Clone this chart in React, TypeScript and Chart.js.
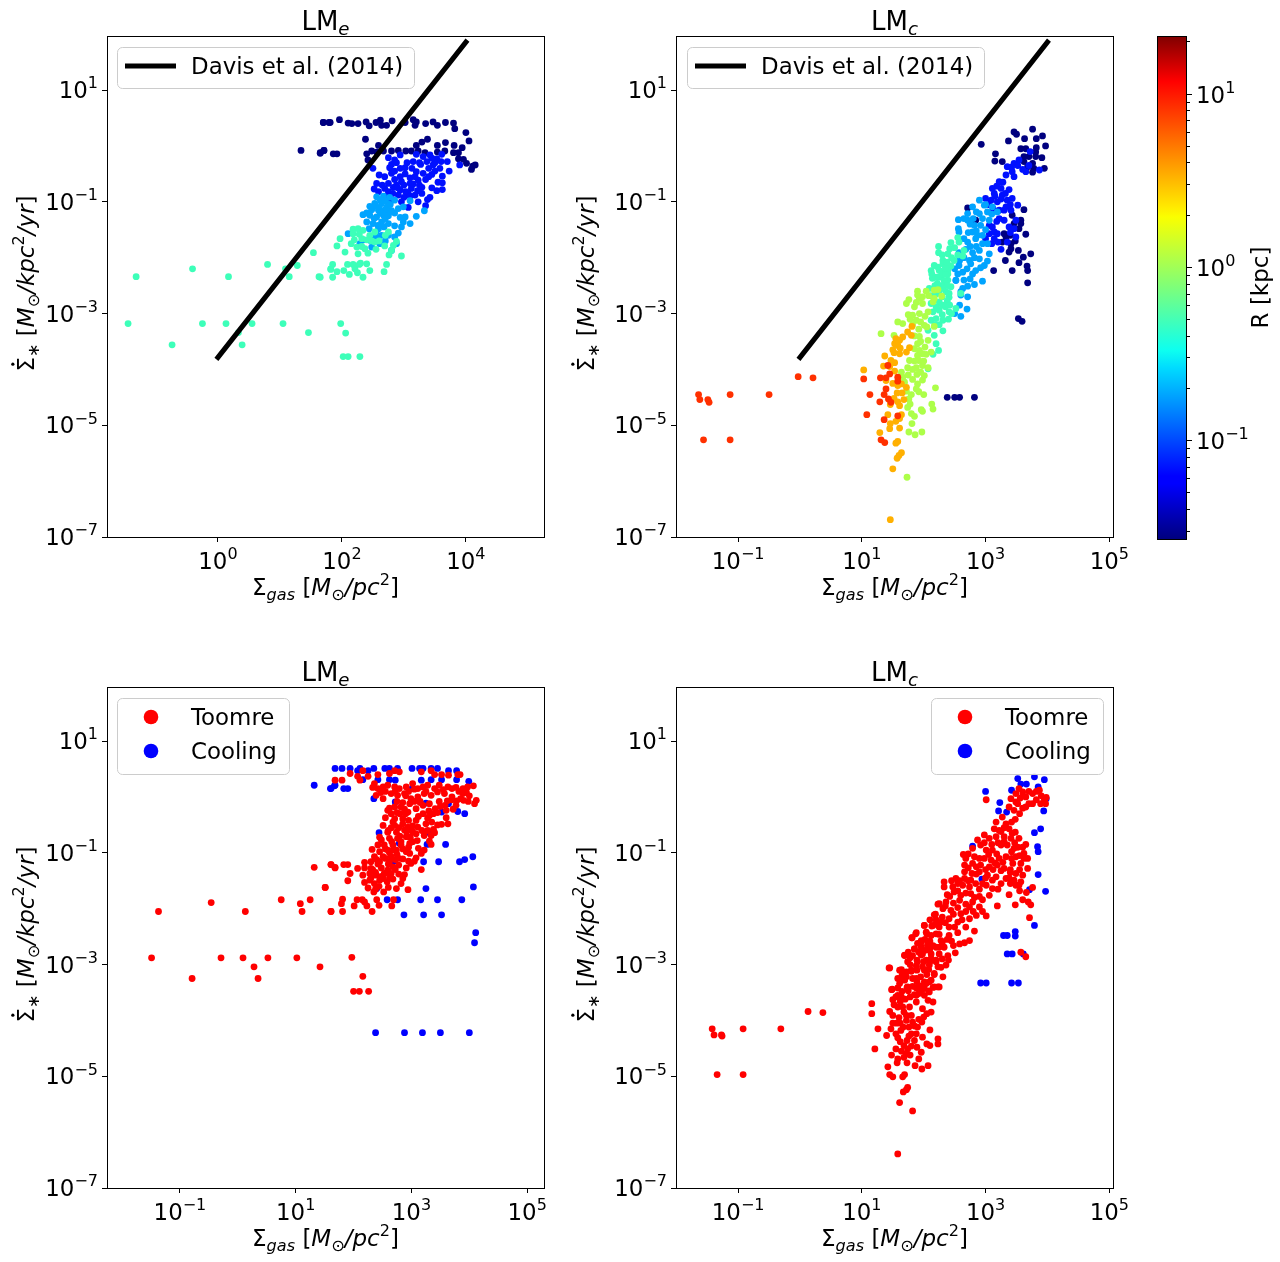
import { useEffect, useRef } from 'react';
import { Chart, registerables } from 'chart.js';

Chart.register(...registerables);

// all pairs are [log10 Sigma_gas, log10 SFR density]
const davisLine = [[0, -3.785], [4, 1.86]];

const lmeNavy = [[1.70,0.42],[1.81,0.42],[1.96,0.47],[2.10,0.41],[2.16,0.40],[2.26,0.40],[2.39,0.43],[2.44,0.36],[2.55,0.42],[2.62,0.46],[2.64,0.37],[2.72,0.37],[2.81,0.45],[3.02,0.42],[3.15,0.47],[3.20,0.43],[3.18,0.37],[3.35,0.40],[3.47,0.43],[3.54,0.37],[3.67,0.42],[3.80,0.41],[3.82,0.31],[4.00,0.24],[4.05,0.09],[2.38,0.12],[2.59,0.01],[3.20,0.01],[3.29,0.07],[3.38,0.12],[3.54,0.01],[3.67,0.06],[3.81,0.01],[3.94,-0.03],[1.71,-0.08],[1.65,-0.12],[1.86,-0.14],[1.92,-0.14],[2.40,-0.14],[2.48,-0.09],[2.56,-0.11],[2.67,-0.09],[2.80,-0.09],[2.91,-0.08],[3.03,-0.09],[3.12,-0.09],[3.23,-0.09],[3.34,-0.12],[3.54,-0.11],[3.66,-0.09],[3.80,-0.12],[3.88,-0.12],[3.88,-0.23],[3.96,-0.24],[4.01,-0.31],[4.11,-0.36],[4.15,-0.34],[4.09,-0.42],[2.42,-0.25],[1.34,-0.08],[1.65,-0.13],[1.71,-0.08],[1.70,0.42],[1.79,0.42]];
const lmeBlue = [[2.75,-0.21],[2.85,-0.25],[2.94,-0.16],[3.20,-0.15],[3.31,-0.19],[3.42,-0.16],[3.53,-0.23],[3.61,-0.15],[3.70,-0.28],[2.77,-0.39],[2.94,-0.40],[2.50,-0.40],[3.02,-0.39],[3.15,-0.28],[3.37,-0.28],[3.47,-0.34],[3.58,-0.40],[3.73,-0.45],[3.90,-0.34],[2.60,-0.52],[2.69,-0.55],[2.80,-0.49],[2.94,-0.55],[3.10,-0.57],[3.20,-0.46],[3.31,-0.49],[3.45,-0.51],[3.62,-0.54],[2.56,-0.67],[2.75,-0.67],[2.96,-0.64],[3.10,-0.67],[3.23,-0.61],[3.35,-0.60],[3.62,-0.66],[2.52,-0.77],[2.69,-0.76],[2.88,-0.70],[2.94,-0.79],[3.12,-0.76],[3.29,-0.74],[3.53,-0.80],[3.62,-0.78],[2.59,-0.82],[2.75,-0.82],[2.91,-0.88],[3.07,-0.85],[3.18,-0.88],[3.29,-0.85],[3.42,-0.92],[3.38,-0.96],[2.96,-1.00],[3.23,-1.00],[3.35,-1.07],[3.07,-1.10],[2.85,-0.60],[2.83,-0.74],[3.00,-0.70],[3.27,-0.33],[3.40,-0.40],[3.50,-0.30],[3.03,-0.82],[2.65,-0.70],[2.80,-0.33],[2.88,-0.30],[3.05,-0.30],[3.13,-0.40],[3.25,-0.30],[3.45,-0.22],[3.60,-0.28],[2.85,-0.45],[3.02,-0.50],[3.18,-0.55],[3.25,-0.70],[3.40,-0.55],[3.50,-0.45],[3.15,-0.68],[2.82,-0.85],[2.70,-0.90],[3.00,-0.92],[3.10,-0.90],[3.22,-0.80],[2.90,-0.75],[3.55,-0.65],[3.45,-0.75],[2.80,-0.97]];
const lmeSky = [[2.56,-0.91],[2.67,-0.90],[2.77,-0.92],[2.85,-0.97],[2.53,-1.03],[2.64,-1.03],[2.75,-1.04],[2.48,-1.14],[2.59,-1.15],[2.69,-1.15],[2.80,-1.16],[2.91,-1.12],[2.99,-1.09],[3.10,-0.98],[2.34,-1.23],[2.45,-1.24],[2.56,-1.27],[2.67,-1.24],[2.77,-1.18],[2.94,-1.28],[3.02,-1.27],[3.20,-1.26],[3.33,-1.16],[2.40,-1.36],[2.50,-1.39],[2.64,-1.36],[2.75,-1.39],[2.99,-1.36],[3.10,-1.39],[2.10,-1.57],[2.44,-1.48],[2.59,-1.48],[2.85,-1.43],[2.96,-1.45],[2.91,-1.56],[2.85,-1.63],[2.29,-1.75],[2.45,-1.69],[2.61,-1.75],[2.64,-1.60],[2.48,-1.81],[2.88,-1.75],[2.80,-1.87],[2.62,-0.97],[2.72,-1.10],[2.60,-1.10],[2.52,-1.30],[2.50,-1.10],[2.70,-0.98],[2.78,-1.05],[2.62,-1.20],[2.70,-1.30],[2.45,-1.08],[2.58,-1.42],[2.75,-1.25],[2.85,-1.20],[2.68,-1.45],[2.40,-1.20],[2.55,-1.55],[2.75,-1.60],[2.70,-1.70],[2.58,-1.65],[2.35,-1.68],[2.50,-1.62]];
const lmeTeal = [[-1.32,-2.34],[-0.41,-2.20],[0.17,-2.34],[0.80,-2.12],[1.28,-2.14],[1.09,-2.20],[1.15,-2.34],[1.54,-1.91],[1.63,-2.34],[1.82,-2.20],[-1.45,-3.18],[-0.25,-3.18],[0.13,-3.18],[0.55,-3.18],[1.05,-3.18],[0.33,-3.34],[1.46,-3.34],[-0.74,-3.56],[0.39,-3.56],[2.02,-3.77],[2.10,-3.77],[2.29,-3.77],[1.98,-3.18],[2.06,-3.35],[1.97,-1.66],[1.92,-1.79],[2.18,-1.49],[2.26,-1.48],[2.34,-1.51],[2.18,-1.57],[2.32,-1.66],[2.24,-1.81],[2.37,-1.84],[2.26,-1.93],[2.42,-1.92],[2.45,-1.60],[2.53,-1.54],[2.75,-1.54],[2.53,-1.72],[2.69,-1.79],[2.88,-1.71],[2.83,-1.78],[2.80,-1.87],[2.76,-1.95],[2.96,-1.97],[1.85,-2.12],[1.82,-2.21],[1.85,-2.35],[1.65,-2.35],[2.03,-2.23],[2.09,-2.12],[2.18,-2.12],[2.21,-2.20],[2.25,-2.27],[2.34,-2.35],[2.40,-2.11],[2.45,-2.23],[2.72,-2.12],[2.68,-2.25],[2.28,-1.58],[2.40,-1.68],[2.48,-1.70],[2.20,-1.68],[2.32,-1.80],[2.15,-1.75],[2.05,-1.90],[2.30,-2.10],[2.12,-2.30],[2.28,-2.12],[1.92,-2.25],[2.60,-1.70],[2.55,-1.85],[2.70,-1.60]];

const lmcNavy = [[3.76,0.30],[3.46,0.25],[3.50,0.21],[3.63,0.13],[3.92,0.18],[3.82,0.13],[3.37,0.09],[2.93,0.03],[3.97,0.00],[3.82,-0.03],[3.57,-0.05],[3.65,-0.05],[3.81,-0.11],[3.16,-0.14],[3.62,-0.19],[3.70,-0.19],[3.81,-0.19],[3.91,-0.21],[3.15,-0.27],[3.27,-0.28],[3.62,-0.28],[3.76,-0.31],[3.68,-0.37],[3.95,-0.40],[3.78,-0.40],[3.76,-0.47],[2.71,-1.11],[2.84,-1.33],[3.62,-1.14],[3.43,-1.24],[3.57,-1.33],[3.57,-1.39],[3.46,-1.39],[3.54,-1.48],[3.30,-1.57],[3.65,-1.58],[3.33,-1.63],[3.41,-1.75],[3.27,-1.72],[3.41,-1.84],[3.53,-1.87],[3.73,-1.93],[3.61,-1.99],[3.54,-2.09],[3.32,-2.05],[3.67,-2.15],[3.68,-2.23],[3.13,-2.23],[3.43,-2.23],[3.68,-2.45],[3.53,-3.09],[3.59,-3.14],[2.38,-4.50],[2.50,-4.50],[2.58,-4.50],[2.82,-4.50],[3.40,-1.60],[3.48,-1.70],[3.38,-1.90]];
const lmcBlue = [[3.54,-0.25],[3.46,-0.31],[3.35,-0.37],[3.33,-0.52],[3.43,-0.46],[3.46,-0.55],[3.65,-0.46],[3.87,-0.43],[3.22,-0.64],[3.11,-0.76],[3.25,-0.76],[3.14,-0.85],[3.27,-0.88],[3.00,-0.94],[3.09,-0.97],[3.19,-1.00],[3.35,-0.97],[3.43,-0.94],[3.52,-1.06],[3.33,-1.09],[3.41,-1.15],[3.22,-1.15],[3.11,-1.45],[3.14,-1.54],[3.06,-1.42],[3.30,-1.33],[3.22,-1.30],[3.38,-1.45],[3.49,-1.33],[3.46,-1.48],[3.14,-1.66],[3.35,-1.72],[3.49,-1.63],[3.00,-1.66],[3.06,-1.57],[3.19,-1.57],[3.15,-0.90],[3.25,-0.95],[3.32,-0.85],[3.18,-0.72],[3.28,-0.65],[3.12,-1.12],[3.30,-1.15],[3.40,-1.05],[3.05,-1.05],[3.18,-1.35],[3.38,-0.78],[3.10,-1.75],[3.25,-1.85],[3.40,-1.55],[3.20,-1.72],[3.70,-0.35],[3.60,-0.42],[3.72,-0.10],[3.52,-0.35],[3.42,-0.38]];
const lmcSky = [[2.90,-0.97],[2.79,-1.09],[2.98,-1.06],[3.11,-1.09],[2.71,-1.21],[2.90,-1.21],[3.03,-1.18],[3.19,-1.18],[2.56,-1.32],[2.71,-1.33],[2.95,-1.30],[3.06,-1.33],[2.56,-1.48],[2.82,-1.42],[2.92,-1.42],[2.57,-1.54],[2.65,-1.66],[2.79,-1.54],[2.87,-1.60],[2.71,-1.72],[2.84,-1.66],[3.03,-1.75],[2.90,-1.87],[2.79,-1.91],[2.57,-1.91],[3.06,-1.93],[2.74,-2.05],[2.90,-2.02],[3.03,-2.06],[2.57,-2.14],[2.76,-2.11],[2.98,-2.14],[2.84,-2.23],[2.55,-2.29],[2.63,-2.26],[2.79,-2.29],[2.52,-2.40],[2.95,-2.42],[2.82,-2.48],[2.71,-2.51],[2.60,-2.61],[2.71,-2.70],[2.63,-2.55],[2.52,-2.41],[2.60,-2.67],[2.65,-1.30],[2.75,-1.40],[2.72,-1.55],[2.80,-1.30],[2.68,-1.85],[2.85,-1.52],[2.95,-1.60],[2.95,-1.75],[2.85,-1.80],[2.75,-1.80],[2.65,-2.00],[2.82,-2.00],[2.70,-2.20],[2.92,-2.18],[2.58,-2.05],[3.00,-1.50],[2.85,-1.18],[3.00,-1.05],[2.75,-2.38],[2.65,-2.40],[3.10,-1.22],[2.50,-2.20],[2.58,-2.85],[2.70,-2.92],[2.60,-3.05],[2.50,-3.00]];
const lmcTeal = [[2.55,-1.64],[2.57,-1.72],[2.44,-1.73],[2.24,-1.80],[2.42,-1.84],[2.24,-1.91],[2.39,-1.93],[2.65,-1.87],[2.63,-1.97],[2.49,-2.05],[2.17,-2.14],[2.31,-2.05],[2.44,-2.15],[2.12,-2.23],[2.25,-2.23],[2.39,-2.29],[2.14,-2.37],[2.28,-2.34],[2.39,-2.40],[2.22,-2.46],[2.33,-2.49],[2.44,-2.52],[2.09,-2.55],[2.25,-2.61],[2.36,-2.61],[2.41,-2.71],[2.60,-2.64],[2.13,-2.29],[2.23,-2.17],[2.31,-2.11],[2.39,-2.23],[2.25,-2.35],[2.33,-2.41],[2.31,-2.55],[2.41,-2.64],[2.12,-2.82],[2.25,-2.79],[2.15,-2.97],[2.25,-2.94],[2.52,-2.91],[2.41,-2.97],[2.12,-3.12],[2.20,-3.09],[2.31,-3.12],[2.07,-3.30],[2.31,-3.31],[2.17,-3.39],[2.20,-3.54],[2.24,-3.66],[2.15,-3.73],[2.07,-3.99],[2.20,-2.35],[2.30,-2.25],[2.35,-2.30],[2.18,-2.50],[2.28,-2.50],[2.38,-2.50],[2.20,-2.65],[2.30,-2.70],[2.38,-2.78],[2.20,-2.88],[2.30,-2.85],[2.42,-2.85],[2.30,-3.02],[2.40,-3.10],[2.18,-3.20],[2.12,-2.68],[2.35,-2.18],[2.30,-1.95],[2.45,-2.00],[2.50,-1.82],[2.38,-2.08],[2.55,-1.95],[2.35,-2.88],[2.45,-3.00],[2.25,-3.20]];
const lmcLime = [[1.31,-3.36],[1.52,-3.39],[1.58,-3.15],[1.66,-3.18],[1.72,-2.82],[1.76,-2.75],[1.90,-2.60],[1.90,-2.67],[2.04,-2.60],[2.17,-2.58],[2.23,-2.57],[2.17,-2.73],[2.15,-2.79],[2.29,-2.69],[1.93,-2.73],[1.85,-2.88],[1.98,-2.82],[2.07,-2.97],[1.75,-3.02],[1.82,-3.03],[1.93,-3.00],[1.88,-3.12],[2.01,-3.21],[2.05,-3.24],[2.17,-3.23],[1.90,-3.54],[1.93,-3.41],[2.07,-3.48],[1.85,-3.63],[1.93,-3.66],[2.12,-3.69],[2.04,-3.73],[1.90,-3.75],[1.77,-3.84],[1.92,-3.84],[1.88,-3.97],[1.98,-3.93],[2.07,-3.97],[1.74,-3.97],[1.64,-4.05],[1.66,-4.14],[1.89,-4.09],[2.01,-4.11],[1.98,-4.19],[1.69,-4.23],[1.90,-4.26],[1.88,-4.35],[1.72,-4.39],[2.19,-4.33],[2.00,-4.45],[1.76,-4.53],[1.74,-4.68],[1.80,-4.79],[1.85,-4.84],[2.13,-4.62],[2.15,-4.71],[1.96,-4.72],[1.98,-4.75],[1.81,-4.97],[1.76,-5.12],[1.86,-5.17],[1.97,-5.12],[1.73,-5.93],[1.78,-3.10],[1.95,-3.15],[2.02,-3.05],[1.88,-2.80],[1.98,-2.70],[2.08,-2.68],[1.82,-3.20],[1.92,-3.28],[1.95,-3.50],[2.02,-3.60],[1.85,-3.40],[1.98,-3.72],[1.85,-3.85],[2.00,-3.85],[1.82,-4.00],[1.75,-4.10],[1.82,-4.18],[1.95,-4.05],[1.80,-4.45],[1.78,-4.62],[1.92,-4.40]];
const lmcOrange = [[1.03,-4.01],[1.37,-3.76],[1.55,-3.45],[1.61,-3.48],[1.53,-3.54],[1.58,-3.57],[1.50,-3.65],[1.77,-3.61],[1.61,-3.72],[1.72,-3.69],[1.81,-3.23],[1.74,-3.33],[1.80,-3.39],[1.66,-3.42],[1.47,-3.84],[1.35,-3.94],[1.53,-3.88],[1.53,-4.03],[1.39,-4.20],[1.58,-4.29],[1.64,-4.26],[1.72,-4.32],[1.57,-4.42],[1.68,-4.54],[1.46,-4.63],[1.61,-4.65],[1.42,-4.81],[1.64,-4.81],[1.61,-4.88],[1.55,-4.93],[1.46,-4.97],[1.45,-5.06],[1.61,-5.05],[1.29,-5.13],[1.58,-5.29],[1.55,-5.32],[1.64,-5.49],[1.60,-5.54],[1.57,-5.59],[1.50,-5.78],[1.46,-6.69],[1.62,-3.62],[1.52,-3.70],[1.45,-3.95],[1.50,-4.25],[1.65,-4.42],[1.52,-4.52],[1.58,-4.58]];
const lmcRed = [[-1.64,-4.45],[-1.62,-4.54],[-1.49,-4.54],[-1.47,-4.59],[-1.13,-4.45],[-0.50,-4.45],[-0.03,-4.13],[0.21,-4.15],[-1.56,-5.26],[-1.13,-5.26],[1.03,-4.17],[1.30,-4.15],[1.42,-3.93],[1.45,-4.08],[1.39,-4.15],[1.58,-4.14],[1.58,-4.21],[1.39,-4.35],[1.36,-4.45],[1.13,-4.45],[1.29,-4.58],[1.43,-4.53],[1.47,-4.59],[1.08,-4.81],[1.36,-4.90],[1.58,-4.83],[1.31,-5.26],[1.37,-5.31]];

const toomreE = [[-1.37,-2.05],[-0.46,-1.89],[0.13,-2.05],[0.75,-1.84],[1.08,-1.91],[1.11,-2.05],[1.25,-1.84],[1.51,-1.62],[1.61,-2.05],[1.32,-1.26],[1.61,-1.21],[1.68,-1.26],[-1.49,-2.88],[-0.29,-2.88],[0.09,-2.88],[0.52,-2.88],[1.02,-2.88],[0.28,-3.04],[1.42,-3.04],[-0.79,-3.25],[0.35,-3.25],[1.68,0.30],[1.97,-2.87],[2.16,-3.21],[2.00,-3.48],[2.10,-3.48],[2.26,-3.48],[1.80,0.30],[1.94,0.42],[2.07,0.37],[2.16,0.47],[2.11,0.30],[2.25,0.37],[2.42,0.40],[2.62,0.42],[2.71,0.47],[2.79,0.45],[3.17,0.45],[3.34,0.47],[3.40,0.40],[3.52,0.40],[3.64,0.39],[3.80,0.40],[3.84,0.40],
[2.36,0.24],[2.42,0.15],[2.51,0.18],[2.59,0.21],[2.71,0.18],[2.79,0.15],[2.91,0.18],[3.02,0.24],[3.11,0.15],[3.20,0.18],[3.28,0.21],[3.40,0.15],[3.48,0.21],[3.63,0.18],[3.77,0.17],[3.89,0.15],[3.97,0.18],[4.07,0.20],[2.39,0.03],[2.51,-0.03],[2.65,0.06],[2.76,0.03],[2.88,0.06],[2.99,-0.03],[3.11,0.00],[3.22,0.06],[3.34,0.03],[3.45,0.09],[3.57,0.06],[3.70,0.00],[3.89,0.06],[4.00,0.02],[4.12,-0.06],[3.90,-0.06],[4.09,-0.12],[3.77,-0.15],
[2.59,-0.24],[2.71,-0.18],[2.82,-0.18],[2.97,-0.12],[3.08,-0.21],[3.20,-0.15],[3.31,-0.12],[3.41,-0.21],[3.60,-0.24],[2.55,-0.37],[2.71,-0.39],[2.85,-0.39],[2.94,-0.27],[3.08,-0.42],[3.20,-0.30],[3.31,-0.33],[3.60,-0.37],[2.51,-0.51],[2.71,-0.51],[2.85,-0.48],[2.94,-0.54],[3.11,-0.54],[3.25,-0.48],[3.63,-0.48],[3.52,-0.49],[2.59,-0.63],[2.74,-0.63],[2.88,-0.59],[3.08,-0.66],[3.22,-0.69],[3.40,-0.64],[3.34,-0.69],[2.48,-0.77],[2.62,-0.74],[2.76,-0.74],[2.91,-0.71],[3.02,-0.80],[3.31,-0.79],[3.34,-0.85],
[2.42,-0.86],[2.53,-0.86],[2.68,-0.86],[2.82,-0.86],[2.97,-0.83],[2.32,-0.94],[2.45,-0.98],[2.59,-0.95],[2.74,-0.95],[2.91,-0.98],[2.97,-1.01],[3.22,-0.95],[3.17,-1.01],[2.36,-1.07],[2.51,-1.07],[2.65,-1.07],[2.85,-1.11],[3.08,-1.09],[2.19,-1.17],[2.30,-1.16],[2.45,-1.16],[2.62,-1.16],[2.99,-1.19],[1.61,-1.21],[1.68,-1.27],[1.83,-1.21],[1.90,-1.21],[2.07,-1.28],[2.19,-1.27],[2.30,-1.28],[2.48,-1.27],[2.59,-1.31],[2.91,-1.27],[3.17,-1.30],[1.94,-1.37],[2.28,-1.37],[2.39,-1.40],[2.53,-1.37],[2.65,-1.37],[2.88,-1.39],[2.16,-1.40],[1.90,-1.50],[2.19,-1.53],[2.28,-1.49],[2.45,-1.49],[2.68,-1.47],[2.85,-1.46],[2.82,-1.55],[1.51,-1.62],[2.25,-1.63],[2.36,-1.55],[2.44,-1.60],[2.74,-1.64],[2.94,-1.66],[2.51,-1.46],
[1.81,-1.83],[1.79,-1.91],[2.06,-1.84],[2.15,-1.84],[2.19,-1.88],[2.23,-1.95],[2.40,-1.84],[2.44,-1.94],[2.69,-1.84],[2.66,-1.95],[2.01,-1.95],[1.61,-2.05],[1.81,-2.05],[2.32,-2.05],
[2.65,-0.30],[2.90,-0.30],[3.02,-0.52],[2.80,-0.70],[2.66,-0.80],[2.55,-0.93],[2.40,-1.12],[2.33,-1.30],[2.75,-1.03],[2.95,-0.90],[3.10,-0.78],[3.28,-0.60],[3.38,-0.30],[3.48,-0.08],[3.15,-0.08],[2.85,-0.10],[2.60,-1.20],[2.72,-1.30],[2.58,-1.52],[2.38,-1.65],[2.78,-1.10],[2.45,-0.72],[2.90,-0.60],[2.65,-0.55],[2.75,-0.28],[3.58,-0.15],[3.70,-0.05],[3.85,-0.03],[3.98,-0.08],
[2.62,-0.20],[2.75,-0.08],[2.88,-0.22],[2.95,-0.42],[2.80,-0.30],[2.68,-0.45],[2.60,-0.60],[2.78,-0.55],[2.92,-0.62],[2.82,-0.80],[2.98,-0.72],[2.68,-0.95],[2.85,-0.93],[2.62,-1.00],[2.72,-1.12],[2.55,-1.10],[2.42,-1.20],[2.58,-1.35],[2.68,-1.25],[2.78,-1.22],[2.38,-1.35],[2.48,-1.42],[2.62,-1.45],[2.30,-1.45],[2.35,-1.70],[2.78,-1.38],[2.52,-1.70],[2.60,-1.62],[2.95,-1.15],[3.05,-1.15],[3.12,-0.92],[3.02,-0.62],[3.18,-0.60],[3.12,-0.35],[3.30,-0.25],[3.45,-0.28],[3.15,-0.10],[3.05,-0.08],[2.90,0.02],[2.95,0.10],[3.25,0.10],[3.55,0.13],[3.70,0.15],[3.82,0.10],[3.95,0.08],[3.05,0.14],[2.72,0.10],[2.55,0.10],[2.47,0.08],[2.33,0.17],[3.35,-0.45],[3.45,-0.50],[3.38,-0.58],[3.28,-0.38],[3.72,-0.22],[3.50,-0.17],[3.62,-0.07],[3.78,-0.07]];
const coolingE = [[1.32,0.21],[1.61,0.15],[1.68,0.21],[1.68,0.51],[1.80,0.51],[1.94,0.51],[2.07,0.47],[2.11,0.51],[2.25,0.47],[2.35,0.51],[2.54,0.51],[2.62,0.51],[2.76,0.51],[3.01,0.51],[3.14,0.51],[3.20,0.51],[3.34,0.51],[3.45,0.51],[3.64,0.47],[3.78,0.47],[1.60,0.15],[1.67,0.20],[1.83,0.15],[1.90,0.15],[2.16,0.31],[2.42,0.31],[2.62,0.31],[2.72,0.30],[3.17,0.30],[3.34,0.31],[3.52,0.31],[3.78,0.31],[3.99,0.28],[2.35,-0.03],[2.72,-0.09],[3.01,0.15],[3.25,-0.11],[3.64,-0.12],[3.52,-0.27],[3.80,-0.26],[3.92,-0.30],[2.44,-0.64],[2.79,-0.83],[3.27,-0.85],[3.59,-0.85],[3.31,-0.64],[2.69,-1.15],[3.21,-1.16],[3.47,-1.16],[3.83,-1.16],[3.92,-1.12],[4.06,-1.07],[2.40,-1.64],[3.25,-1.64],[4.07,-1.61],[2.58,-1.84],[2.76,-1.84],[3.16,-1.84],[3.45,-1.84],[3.87,-1.84],[2.87,-2.11],[3.21,-2.11],[3.52,-2.11],[4.11,-2.43],[4.09,-2.61],[2.38,-4.22],[2.88,-4.22],[3.19,-4.22],[3.50,-4.22],[4.00,-4.22]];

const toomreC = [[-1.42,-4.15],[-1.39,-4.26],[-1.27,-4.26],[-1.26,-4.28],[-0.92,-4.15],[-0.31,-4.15],[0.13,-3.84],[0.37,-3.86],[-1.34,-4.97],[-0.92,-4.97],[1.16,-3.70],[1.16,-3.88],[1.44,-3.06],[1.26,-4.15],[1.40,-4.27],[1.21,-4.51],[1.42,-4.83],[1.45,-4.97],[1.50,-5.01],[1.66,-5.01],[1.69,-4.97],[1.67,-5.28],[1.72,-5.24],[1.74,-5.20],[1.61,-5.47],[1.82,-5.62],[1.58,-6.39],
[1.48,-3.45],[1.50,-3.63],[1.58,-3.55],[1.64,-3.58],[1.45,-3.84],[1.50,-3.91],[1.58,-3.76],[1.66,-3.76],[1.77,-3.76],[1.88,-3.67],[1.85,-3.54],[1.72,-3.91],[1.80,-3.91],[1.72,-4.00],[1.82,-4.03],[1.50,-4.05],[1.47,-4.15],[1.67,-4.12],[1.55,-4.24],[1.58,-4.31],[1.80,-4.24],[1.88,-4.24],[1.73,-4.36],[1.85,-4.36],[1.74,-4.51],[1.72,-4.60],[1.55,-4.51],[1.48,-4.62],[1.58,-4.69],[1.57,-4.76],[1.73,-4.76],[1.89,-4.48],[1.96,-4.57],[2.05,-4.42],[2.10,-4.45],[1.92,-4.69],[1.86,-4.81],[1.97,-4.87],[2.07,-4.81],[2.10,-4.17],[1.97,-4.03],[2.00,-3.94],[2.12,-3.85],[1.98,-3.79],[2.07,-3.64],[2.15,-3.67],[2.01,-3.55],[2.01,-3.43],[2.15,-3.41],[1.82,-3.39],[1.73,-3.41],[1.61,-3.34],[1.69,-3.27],[1.65,-3.19],[1.64,-3.09],[1.72,-3.13],[1.80,-3.12],[1.89,-3.10],[2.01,-3.10],[2.08,-3.09],[2.17,-3.18],[1.89,-3.31],[2.01,-3.31],[2.09,-3.31],[2.23,-3.40],[2.23,-4.33],[2.23,-4.42],[1.69,-2.83],[1.78,-2.88],[1.89,-2.92],[1.85,-2.72],[1.96,-2.83],[2.04,-2.74],[2.12,-2.89],[2.20,-2.95],[1.81,-2.52],[1.87,-2.45],[1.96,-2.60],[2.01,-2.30],[2.05,-2.45],[2.13,-2.31],[2.20,-2.27],[2.19,-2.10],[2.23,-1.92],[2.20,-2.45],[2.07,-2.63],[2.20,-2.69],[2.09,-3.01],[2.23,-3.04],
[3.01,-0.05],[3.54,0.15],[3.60,0.09],[3.76,0.06],[3.87,0.12],[3.98,-0.01],[3.49,0.06],[3.41,-0.03],[3.65,-0.18],[3.76,-0.12],[3.89,-0.12],[3.97,-0.12],[3.65,0.00],[3.49,-0.09],[3.38,-0.18],[3.46,-0.24],[3.48,-0.40],[3.17,-0.45],[3.27,-0.36],[3.33,-0.48],[3.14,-0.57],[3.22,-0.60],[3.38,-0.57],[3.48,-0.63],[2.98,-0.68],[2.87,-0.77],[3.06,-0.74],[3.17,-0.71],[3.30,-0.71],[3.41,-0.74],[3.54,-0.74],[2.79,-0.92],[2.64,-1.03],[2.92,-0.86],[3.01,-0.95],[3.11,-0.95],[3.25,-0.86],[3.35,-0.86],[3.46,-0.92],[3.65,-0.85],[2.82,-1.07],[2.98,-1.10],[3.09,-1.13],[3.22,-1.10],[3.33,-1.07],[3.49,-1.07],[3.62,-1.01],[3.62,-1.10],[2.66,-1.22],[2.79,-1.19],[2.92,-1.22],[3.06,-1.25],[3.19,-1.22],[3.30,-1.28],[3.44,-1.19],[3.57,-1.19],[2.66,-1.34],[2.78,-1.37],[2.90,-1.34],[3.03,-1.40],[3.17,-1.43],[3.33,-1.46],[3.49,-1.37],[3.68,-1.28],[2.33,-1.52],[2.52,-1.46],[2.66,-1.46],[2.76,-1.49],[2.84,-1.55],[3.11,-1.49],[3.46,-1.49],[3.57,-1.52],[3.54,-1.58],[2.33,-1.61],[2.47,-1.61],[2.63,-1.58],[2.74,-1.61],[3.01,-1.58],[3.11,-1.64],[3.49,-1.58],[2.49,-1.70],[2.60,-1.76],[2.76,-1.73],[2.90,-1.78],[3.06,-1.76],[3.38,-1.75],[3.66,-1.71],[3.76,-1.62],[2.25,-1.91],[2.36,-1.88],[2.58,-1.85],[2.79,-1.88],[2.95,-1.84],[3.48,-1.93],[3.60,-1.84],[3.69,-1.88],[3.73,-1.93],[3.19,-1.95],[2.17,-2.11],[2.31,-2.00],[2.44,-2.03],[2.60,-2.09],[2.74,-1.97],[2.90,-1.97],[3.01,-2.13],[2.85,-2.12],[3.71,-2.16],[2.28,-2.24],[2.41,-2.18],[2.55,-2.24],[2.74,-2.18],[2.68,-2.33],[2.82,-2.40],[2.01,-2.30],[2.15,-2.30],[2.25,-2.33],[2.41,-2.33],[2.55,-2.43],[2.04,-2.42],[1.88,-2.43],[1.81,-2.52],[1.96,-2.57],[2.12,-2.48],[2.25,-2.46],[2.28,-2.57],[2.41,-2.48],[2.74,-2.57],[2.66,-2.61],[2.58,-2.63],[2.48,-2.66],[1.96,-2.69],[2.06,-2.66],[2.25,-2.69],[2.33,-2.69],[1.85,-2.72],[1.69,-2.84],[1.82,-2.84],[1.98,-2.81],[2.12,-2.81],[2.25,-2.81],[2.39,-2.84],[2.51,-2.79],[1.61,-3.10],[1.74,-2.95],[1.90,-2.95],[2.04,-2.92],[2.20,-2.92],[2.36,-3.01],[1.45,-3.06],[1.63,-3.25],[1.80,-3.10],[1.98,-3.04],[2.17,-3.16],[2.31,-3.22],[1.69,-3.28],[1.88,-3.25],[2.04,-3.34],[2.25,-3.40],[1.49,-3.44],[1.74,-3.40],[1.96,-3.46],[2.17,-3.40],[1.55,-3.58],[1.88,-3.55],[2.09,-3.49],[3.57,-2.78],[3.65,-2.86],
[1.52,-3.72],[1.62,-3.66],[1.70,-3.62],[1.78,-3.58],[1.92,-3.52],[1.68,-3.85],[1.60,-3.95],[1.56,-4.05],[1.62,-4.05],[1.76,-4.12],[1.85,-4.10],[1.92,-3.98],[2.05,-3.88],[1.63,-4.18],[1.76,-4.28],[1.90,-4.12],[1.62,-4.38],[1.68,-4.45],[1.80,-4.46],[1.68,-4.66],[1.78,-4.62],[1.64,-4.55],[1.98,-4.30],[1.65,-3.48],[1.75,-3.47],[1.88,-3.42],[1.95,-3.38],[2.08,-3.47],[1.58,-3.25],[1.72,-3.22],[1.82,-3.25],[1.95,-3.22],[2.05,-3.18],[2.12,-3.28],[1.58,-3.42],[1.92,-2.78],[2.00,-2.75],[2.10,-2.72],[1.75,-2.78],[1.78,-3.00],[1.88,-3.02],[2.00,-2.95],[2.10,-2.95],[2.30,-2.90],[2.28,-3.05],[2.40,-2.92],[2.10,-2.58],[2.15,-2.66],[2.02,-2.55],[1.90,-2.62],[2.30,-2.60],[2.38,-2.55],[2.45,-2.58],[2.20,-2.20],[2.30,-2.15],[2.10,-2.20],[2.35,-2.25],[2.48,-2.10],[2.50,-2.33],[2.62,-2.20],[2.35,-1.95],[2.48,-1.90],[2.55,-1.98],[2.68,-1.92],[2.42,-1.78],[2.55,-1.68],[2.68,-1.72],[2.82,-1.80],[2.90,-1.65],[2.72,-1.50],[2.58,-1.50],[2.45,-1.50],[2.85,-1.38],[2.72,-1.27],[2.85,-1.25],[3.00,-1.30],[3.12,-1.30],[3.25,-1.32],[3.40,-1.30],[3.55,-1.30],[3.38,-1.45],[3.25,-1.55],[3.40,-1.55],[3.60,-1.40],[3.20,-1.65],[3.00,-1.45],[2.95,-1.55],[3.15,-1.18],[3.28,-1.17],[3.42,-1.10],[3.55,-1.05],[2.90,-1.10],[3.05,-1.03],[3.18,-1.02],[3.42,-0.98],[3.52,-0.90],[3.60,-0.90],[3.10,-0.85],[3.20,-0.82],[3.30,-0.80],[2.98,-0.82],[3.47,-0.82],[3.25,-0.62],[3.30,-0.55],[3.43,-0.65],[3.42,-0.45],[3.55,-0.30],[3.60,-0.20],[3.70,-0.12],[3.82,-0.05],[3.90,0.02],[3.95,-0.05],[3.70,0.10],[3.60,0.02],[3.52,-0.12],[3.56,-0.02],[3.82,0.10],[2.68,-1.10],[2.72,-1.02],[2.55,-1.55],[2.38,-1.75],[2.68,-2.05],[2.80,-2.05],[2.95,-2.05],[3.55,-1.68],[3.40,-1.35],[3.68,-1.10]];
const coolingC = [[3.52,0.33],[3.79,0.36],[3.95,0.31],[3.57,0.23],[3.66,0.23],[3.85,0.18],[3.00,0.10],[3.42,0.12],[3.23,-0.10],[3.21,-0.25],[3.34,-0.27],[3.94,-0.25],[3.98,-0.03],[3.89,-0.57],[3.79,-0.64],[3.84,-0.89],[3.85,-0.98],[3.85,-1.39],[3.97,-1.69],[3.71,-1.66],[3.79,-2.30],[3.48,-2.41],[3.48,-2.49],[3.29,-2.48],[3.35,-2.48],[3.35,-2.81],[3.43,-2.81],[3.61,-2.81],[2.92,-3.33],[3.01,-3.33],[3.42,-3.33],[3.53,-3.33],[2.79,-0.88],[2.94,-1.47]];

const jetStops = [[0,'#00007f'],[0.11,'#0000ff'],[0.125,'#0000ff'],[0.34,'#00dbff'],[0.375,'#0dfff0'],[0.5,'#7dff7a'],[0.64,'#faff00'],[0.66,'#ffea00'],[0.89,'#ff1300'],[0.91,'#ff0000'],[1,'#7f0000']];
const cbarMajor = [0.1, 1, 10];
const cbarMinor = [0.03, 0.04, 0.05, 0.06, 0.07, 0.08, 0.09, 0.2, 0.3, 0.4, 0.5, 0.6, 0.7, 0.8, 0.9, 2, 3, 4, 5, 6, 7, 8, 9, 20];

const navy = '#00007f', blue = '#0010ff', sky = '#00a4ff', teal = '#3dffb9', lime = '#adff49', orange = '#ffb000', redOrange = '#ff3000', red = '#ff0000', pure = '#0000ff';

const FONT = '"DejaVu Sans"';
const TICK_SIZE = 22.9;
const LABEL_SIZE = 23;
const TITLE_SIZE = 26;
const LEGEND_SIZE = 22.9;

type Run = { t: string; i?: boolean; pos?: 'sub' | 'sup'; dot?: boolean };

const xLabelRuns: Run[] = [{ t: 'Σ' }, { t: 'gas', i: true, pos: 'sub' }, { t: ' [' }, { t: 'M', i: true }, { t: '⊙', pos: 'sub' }, { t: '/pc', i: true }, { t: '2', pos: 'sup' }, { t: ']' }];
const yLabelRuns: Run[] = [{ t: 'Σ', dot: true }, { t: '∗', pos: 'sub' }, { t: ' [' }, { t: 'M', i: true }, { t: '⊙', pos: 'sub' }, { t: '/kpc', i: true }, { t: '2', pos: 'sup' }, { t: '/yr', i: true }, { t: ']' }];

function runFont(run: Run, size: number) {
  const px = run.pos ? size * 0.7 : size;
  return `${run.i ? 'italic ' : ''}${px}px ${FONT}`;
}

// mathtext by hand: canvas text has no sub or superscript
function drawRuns(ctx: CanvasRenderingContext2D, runs: Run[], x: number, y: number, size: number, align = 'center', angle = 0) {
  ctx.save();
  ctx.translate(x, y);
  ctx.rotate(angle);
  ctx.textBaseline = 'alphabetic';
  ctx.textAlign = 'left';
  ctx.fillStyle = '#000';
  let width = 0;
  for (const r of runs) {
    ctx.font = runFont(r, size);
    width += ctx.measureText(r.t).width;
  }
  let cx = align === 'center' ? -width / 2 : align === 'right' ? -width : 0;
  for (const r of runs) {
    ctx.font = runFont(r, size);
    const dy = r.pos === 'sub' ? size * 0.2 : r.pos === 'sup' ? -size * 0.42 : 0;
    ctx.fillText(r.t, cx, dy);
    const w = ctx.measureText(r.t).width;
    if (r.dot) {
      ctx.beginPath();
      ctx.arc(cx + w / 2, -size * 0.92, size * 0.07, 0, Math.PI * 2);
      ctx.fill();
    }
    cx += w;
  }
  ctx.restore();
}

function powerRuns(v: number): Run[] {
  const e = Math.round(Math.log10(v));
  return [{ t: '10' }, { t: e < 0 ? `−${-e}` : `${e}`, pos: 'sup' }];
}

const toPoints = (pairs: number[][]) => pairs.map(([x, y]) => ({ x: 10 ** x, y: 10 ** y }));

const dots = (pairs: number[][], color: string) => ({
  data: toPoints(pairs),
  backgroundColor: color,
  pointRadius: 3.4,
  pointBorderWidth: 0,
  showLine: false,
});

const line = () => ({
  data: toPoints(davisLine),
  borderColor: '#000',
  borderWidth: 5,
  borderCapStyle: 'square',
  pointRadius: 0,
  showLine: true,
});

type LegendInfo = { left: number; top: number; width: number; height: number; entries: { label: string; color?: string }[] };

type PanelProps = {
  left: number;
  top: number;
  xRange: number[];
  xTicks: number[];
  sub: Run;
  datasets: any[];
  legend: LegendInfo;
  yLabelOffset: number;
};

const PANEL_W = 570;
const PANEL_H = 610;

function Panel({ left, top, xRange, xTicks, sub, datasets, legend, yLabelOffset }: PanelProps) {
  const canvasRef = useRef<HTMLCanvasElement>(null);

  useEffect(() => {
    const canvas = canvasRef.current;
    if (!canvas) return;
    const yTicks = [1e-7, 1e-5, 1e-3, 1e-1, 10];

    const decor = {
      id: 'decor',
      afterDraw(chart: Chart) {
        const { ctx, chartArea: a } = chart;
        const sx = chart.scales.x;
        const sy = chart.scales.y;
        ctx.save();
        ctx.strokeStyle = '#000';
        ctx.lineWidth = 1;
        ctx.strokeRect(a.left + 0.5, a.top + 0.5, a.right - a.left, a.bottom - a.top);
        ctx.restore();
        xTicks.forEach((v) => drawRuns(ctx, powerRuns(v), sx.getPixelForValue(v), a.bottom + 32, TICK_SIZE));
        yTicks.forEach((v) => drawRuns(ctx, powerRuns(v), a.left - 9, sy.getPixelForValue(v) + 8, TICK_SIZE, 'right'));
        const cx = (a.left + a.right) / 2;
        drawRuns(ctx, [{ t: 'LM' }, sub], cx, a.top - 6, TITLE_SIZE);
        drawRuns(ctx, xLabelRuns, cx, a.bottom + 58, LABEL_SIZE);
        drawRuns(ctx, yLabelRuns, a.left - yLabelOffset, (a.top + a.bottom) / 2 - 3, LABEL_SIZE, 'center', -Math.PI / 2);

        // legend box
        ctx.save();
        ctx.beginPath();
        ctx.roundRect(legend.left + 0.5, legend.top + 0.5, legend.width, legend.height, 5);
        ctx.fillStyle = 'rgba(255,255,255,0.8)';
        ctx.fill();
        ctx.strokeStyle = '#cccccc';
        ctx.lineWidth = 1;
        ctx.stroke();
        legend.entries.forEach((en, i) => {
          const ey = legend.top + 19 + i * 34;
          if (en.color) {
            ctx.beginPath();
            ctx.arc(legend.left + 34, ey, 7.3, 0, Math.PI * 2);
            ctx.fillStyle = en.color;
            ctx.fill();
          } else {
            ctx.strokeStyle = '#000';
            ctx.lineWidth = 5;
            ctx.beginPath();
            ctx.moveTo(legend.left + 8, ey);
            ctx.lineTo(legend.left + 59, ey);
            ctx.stroke();
          }
          drawRuns(ctx, [{ t: en.label }], legend.left + 74, ey + 8, LEGEND_SIZE, 'left');
        });
        ctx.restore();
      },
    };

    const axis = (ticks: number[]) => ({
      type: 'logarithmic',
      afterBuildTicks: (s: any) => {
        s.ticks = ticks.map((value) => ({ value }));
      },
      ticks: { display: false, autoSkip: false },
      grid: { drawOnChartArea: false, tickLength: 5, tickColor: '#000', tickWidth: 1 },
      border: { display: false },
    });

    const chart = new Chart(canvas, {
      type: 'scatter',
      data: { datasets },
      options: {
        responsive: false,
        animation: false,
        devicePixelRatio: 1,
        layout: { padding: { top: 36, right: 26, left: 0, bottom: 0 } },
        plugins: { legend: { display: false }, tooltip: { enabled: false } },
        scales: {
          x: { ...axis(xTicks), position: 'bottom', min: 10 ** xRange[0], max: 10 ** xRange[1], afterFit: (s: any) => { s.height = PANEL_H - 537; } },
          y: { ...axis(yTicks), position: 'left', min: 1e-7, max: 93, afterFit: (s: any) => { s.width = 107; } },
        },
      } as any,
      plugins: [decor],
    } as any);

    return () => chart.destroy();
  }, []);

  return <canvas ref={canvasRef} width={PANEL_W} height={PANEL_H} style={{ position: 'absolute', left, top, display: 'block' }} />;
}

function ColorBar() {
  const canvasRef = useRef<HTMLCanvasElement>(null);

  useEffect(() => {
    const canvas = canvasRef.current;
    if (!canvas) return;

    const bar = {
      id: 'bar',
      afterDraw(chart: Chart) {
        const { ctx, chartArea: a } = chart;
        const sy = chart.scales.y;
        const grad = ctx.createLinearGradient(0, a.bottom, 0, a.top);
        jetStops.forEach(([p, c]) => grad.addColorStop(p as number, c as string));
        ctx.fillStyle = grad;
        ctx.fillRect(a.left, a.top, a.right - a.left, a.bottom - a.top);
        ctx.strokeStyle = '#000';
        ctx.lineWidth = 1;
        ctx.strokeRect(a.left + 0.5, a.top + 0.5, a.right - a.left - 1, a.bottom - a.top);
        ctx.beginPath();
        cbarMinor.forEach((v) => {
          const p = Math.round(sy.getPixelForValue(v)) + 0.5;
          ctx.moveTo(a.right, p);
          ctx.lineTo(a.right + 3, p);
        });
        cbarMajor.forEach((v) => {
          const p = Math.round(sy.getPixelForValue(v)) + 0.5;
          ctx.moveTo(a.right, p);
          ctx.lineTo(a.right + 5, p);
          drawRuns(ctx, powerRuns(v), a.right + 9, p + 8, TICK_SIZE, 'left');
        });
        ctx.stroke();
        drawRuns(ctx, [{ t: 'R [kpc]' }], 1268 - 1130, (a.top + a.bottom) / 2, LABEL_SIZE, 'center', -Math.PI / 2);
      },
    };

    const chart = new Chart(canvas, {
      type: 'scatter',
      data: { datasets: [{ data: [] }] },
      options: {
        responsive: false,
        animation: false,
        devicePixelRatio: 1,
        layout: { padding: { top: 36, left: 27, bottom: 61, right: 0 } },
        plugins: { legend: { display: false }, tooltip: { enabled: false } },
        scales: {
          x: { display: false },
          y: {
            type: 'logarithmic',
            position: 'right',
            min: 0.0268,
            max: 21.5,
            ticks: { display: false },
            grid: { display: false },
            border: { display: false },
            afterFit: (s: any) => { s.width = 93; },
          },
        },
      } as any,
      plugins: [bar],
    } as any);

    return () => chart.destroy();
  }, []);

  return <canvas ref={canvasRef} width={150} height={600} style={{ position: 'absolute', left: 1130, top: 0, display: 'block' }} />;
}

const leftRange = [-1.79, 5.26];
const rightRange = [-2.005, 5.06];
const lowLeftRange = [-2.26, 5.29];
const davisEntry = [{ label: 'Davis et al. (2014)' }];
const critEntries = [{ label: 'Toomre', color: red }, { label: 'Cooling', color: pure }];

export default function App() {
  return (
    <div style={{ position: 'absolute', left: 0, top: 0, width: 1280, height: 1262, background: '#fff', overflow: 'hidden' }}>
      <Panel left={0} top={0} xRange={leftRange} xTicks={[1, 100, 1e4]} sub={{ t: 'e', i: true, pos: 'sub' }} yLabelOffset={73}
        datasets={[line(), dots(lmeTeal, teal), dots(lmeSky, sky), dots(lmeBlue, blue), dots(lmeNavy, navy)]}
        legend={{ left: 117, top: 47, width: 297, height: 41, entries: davisEntry }} />
      <Panel left={569} top={0} xRange={rightRange} xTicks={[0.1, 10, 1e3, 1e5]} sub={{ t: 'c', i: true, pos: 'sub' }} yLabelOffset={82}
        datasets={[line(), dots(lmcRed, redOrange), dots(lmcOrange, orange), dots(lmcLime, lime), dots(lmcTeal, teal), dots(lmcSky, sky), dots(lmcBlue, blue), dots(lmcNavy, navy)]}
        legend={{ left: 118, top: 47, width: 297, height: 41, entries: davisEntry }} />
      <Panel left={0} top={651} xRange={lowLeftRange} xTicks={[0.1, 10, 1e3, 1e5]} sub={{ t: 'e', i: true, pos: 'sub' }} yLabelOffset={73}
        datasets={[dots(toomreE, red), dots(coolingE, pure)]}
        legend={{ left: 117, top: 47, width: 172, height: 76, entries: critEntries }} />
      <Panel left={569} top={651} xRange={rightRange} xTicks={[0.1, 10, 1e3, 1e5]} sub={{ t: 'c', i: true, pos: 'sub' }} yLabelOffset={82}
        datasets={[dots(toomreC, red), dots(coolingC, pure)]}
        legend={{ left: 362, top: 47, width: 172, height: 76, entries: critEntries }} />
      <ColorBar />
    </div>
  );
}
